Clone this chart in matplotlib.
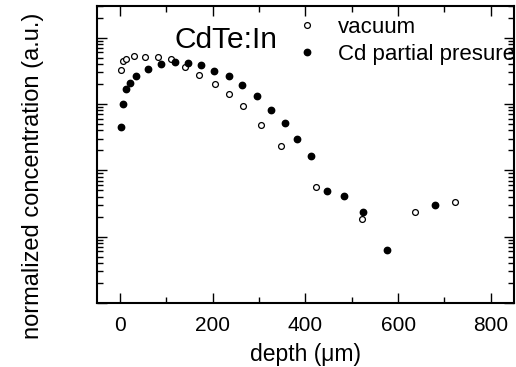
import numpy as np
import matplotlib
matplotlib.use("Agg")
import matplotlib.pyplot as plt
from matplotlib.ticker import LogLocator, NullFormatter, MultipleLocator

plt.rcParams['font.family'] = ['Liberation Sans', 'DejaVu Sans']

# vacuum annealed samples
vac_depth = [2, 6, 13, 29, 53, 82, 110, 140, 171, 204, 234, 265, 303, 347, 422, 523, 637, 723]
vac_conc = [0.32, 0.443, 0.475, 0.522, 0.509, 0.509, 0.47, 0.36, 0.27, 0.202, 0.139, 0.094,
            0.0485, 0.0234, 0.00561, 0.00188, 0.00232, 0.00329]

# Cd partial pressure samples
cd_depth = [2, 6, 13, 21.5, 34, 59, 88, 118, 146, 174, 203, 234, 264, 295, 325, 355, 381,
            411, 447, 483, 525, 576, 679]
cd_conc = [0.0453, 0.0993, 0.170, 0.204, 0.260, 0.336, 0.395, 0.434, 0.413, 0.382, 0.318,
           0.260, 0.192, 0.131, 0.0806, 0.0513, 0.0294, 0.0165, 0.00493, 0.00410, 0.00235,
           0.000634, 0.0030]

fig = plt.figure(figsize=(5.16, 3.67), dpi=100)
ax = fig.add_axes([0.188, 0.174, 0.808, 0.810])

ax.plot(vac_depth, vac_conc, 'o', ms=4.2, mfc='white', mec='black', mew=0.9,
        linestyle='none', label='vacuum')
ax.plot(cd_depth, cd_conc, 'o', ms=4.6, mfc='black', mec='black',
        linestyle='none', label='Cd partial presure')

ax.set_yscale('log')
ax.set_xlim(-50, 850)
ax.set_ylim(1e-4, 3)

ax.xaxis.set_major_locator(MultipleLocator(200))
ax.xaxis.set_minor_locator(MultipleLocator(100))
ax.yaxis.set_major_locator(LogLocator(base=10))
ax.yaxis.set_minor_locator(LogLocator(base=10, subs=np.arange(2, 10)))
ax.yaxis.set_major_formatter(NullFormatter())
ax.yaxis.set_minor_formatter(NullFormatter())

ax.tick_params(which='both', direction='in', top=True, right=True, width=1.0)
ax.tick_params(which='major', length=7, labelsize=15, pad=9)
ax.tick_params(which='minor', length=4)
for s in ax.spines.values():
    s.set_linewidth(1.5)

ax.set_xlabel('depth (μm)', fontsize=16.5, labelpad=6)
ax.set_ylabel('normalized concentration (a.u.)', fontsize=17)
ax.yaxis.set_label_coords(-0.128, 0.43)

ax.text(0.185, 0.885, 'CdTe:In', transform=ax.transAxes, fontsize=21.5, va='center')

ax.legend(loc='upper left', bbox_to_anchor=(0.472, 0.962), frameon=False, fontsize=16,
          handletextpad=0.8, labelspacing=0.25, handlelength=1.2,
          borderaxespad=0, borderpad=0)

fig.savefig('out.png', dpi=100)
